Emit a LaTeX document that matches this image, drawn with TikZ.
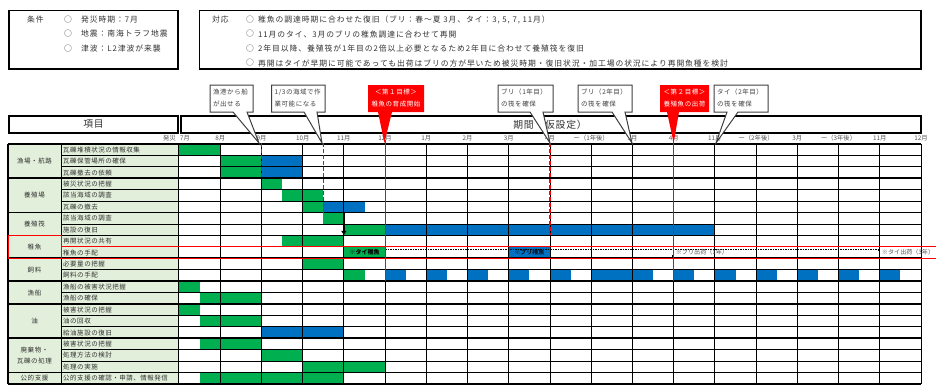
\documentclass[tikz,border=0pt]{standalone}
\usepackage{fontspec}
\setmainfont{Noto Sans CJK JP}
\newfontfamily\jpa[LetterSpace=8]{Noto Sans CJK JP}
\newfontfamily\jpb[LetterSpace=12]{Noto Sans CJK JP}
\usetikzlibrary{arrows.meta}
\definecolor{gr}{HTML}{00B050}
\definecolor{bl}{HTML}{0070C0}
\definecolor{lg}{HTML}{E2EFDA}
\definecolor{tx}{HTML}{333333}
\definecolor{mg}{HTML}{555555}
\definecolor{cg}{HTML}{404040}
\definecolor{rd}{HTML}{FF0000}
\newcommand\CX[1]{179+41.222*(#1)}
\newcommand\RY[1]{144+11.4286*(#1)}
\newcommand\onethird{1/3}
\begin{document}
\begin{tikzpicture}[x=1pt,y=-1pt,
 itm/.style={font=\jpa\fontsize{6.5}{7}\selectfont, text=tx, inner sep=0pt, anchor=west},
 cat/.style={font=\jpa\fontsize{6.5}{10.5}\selectfont, text=tx, inner sep=0pt, align=center},
 mon/.style={font=\fontsize{6.3}{7}\selectfont, text=mg, inner sep=0pt},
 toptxt/.style={font=\jpb\fontsize{7.8}{9}\selectfont, text=tx, inner sep=0pt, anchor=west},
 cal/.style={font=\jpa\fontsize{6.5}{7}\selectfont, inner sep=0pt},
 hdr/.style={font=\jpa\fontsize{9.8}{10}\selectfont, text=tx, inner sep=0pt},
 gl/.style={line width=1pt, draw=black},
 glt/.style={line width=1.6pt, draw=black},
 note/.style={font=\fontsize{6.1}{7}\selectfont, inner sep=0pt},
 ]
\fill[white] (0,0) rectangle (942,389);
\useasboundingbox (0,0) rectangle (942,389);

% ---- top boxes
\draw[line width=1.2pt] (9,10.5) rectangle (178,69);
\draw[line width=1.2pt] (199.5,10.5) rectangle (921,69);
\node[toptxt] (k0) at (27,19.5) {条件};
\foreach \y/\t [count=\i] in {19.5/発災時期：7月, 34/地震：南海トラフ地震, 48.5/津波：L2津波が来襲}{
  \node[toptxt] (kc\i) at (64,\y) {○};
  \node[toptxt] (kt\i) at (81,\y) {\t};
}
\node[toptxt] (t0) at (212,19.5) {対応};
\foreach \y [count=\i] in {19.5,34,48.5,63}{
  \node[toptxt] (tc\i) at (246,\y) {○};
}
\node[toptxt] (tt1) at (258,19.5) {稚魚の調達時期に合わせた復旧（ブリ：春～夏 3月、タイ：3, 5, 7, 11月）};
\node[toptxt] (tt2) at (258,34) {11月のタイ、3月のブリの稚魚調達に合わせて再開};
\node[toptxt] (tt3) at (258,48.5) {2年目以降、養殖筏が1年目の2倍以上必要となるため2年目に合わせて養殖筏を復旧};
\node[toptxt] (tt4) at (258,63) {再開はタイが早期に可能であっても出荷はブリの方が早いため被災時期・復旧状況・加工場の状況により再開魚種を検討};

% ---- header
\draw[line width=2pt] (9,115.5) rectangle (178,133);
\node[hdr] (h1) at (93.5,124.5) {項目};
\draw[line width=2pt] (180.5,115.5) rectangle (921,133);
\node[hdr] (h2) at (550,124.5) {期間（仮設定）};

% ---- month labels
\node[mon, anchor=east] (m00) at (176,138.5) {発災};
\node[mon] (m0) at (185,138.5) {7月};
\foreach \i/\t in {1/8月,2/9月,3/10月,4/11月,5/12月,6/1月,7/2月,8/3月,9/4月,10/ー（1年後）,11/3月,12/4月,13/11月,14/ー（2年後）,15/3月,16/ー（3年後）,17/11月,18/12月}{
  \node[mon] (m\i) at ({\CX{\i}},138.5) {\t};
}

% ---- left columns fill
\fill[lg] (8,{\RY{0}}) rectangle (178.5,{\RY{21}});

% ---- bars
\foreach \c/\a/\b/\r in {gr/0/1/0, gr/1/2/1, bl/2/3/1, gr/1/2/2, bl/2/3/2, gr/2/2.5/3, gr/2.5/3.5/4,
  gr/3/3.5/5, bl/3.5/4.5/5, gr/3.5/4/6, gr/4/5/7, bl/5/13/7, gr/2.5/4/8, gr/4/5/9, bl/8/9/9, gr/3/4/10,
  gr/4/4.5/11, bl/5/5.5/11, bl/6/6.5/11, bl/7/7.5/11, bl/8/8.5/11, bl/9/9.5/11, bl/10/11.5/11,
  bl/12/12.5/11, bl/13/13.5/11, bl/14/14.5/11, bl/15/15.5/11, bl/16/16.5/11, bl/17/17.5/11,
  gr/0/0.5/12, gr/0.5/2/13, gr/0/0.5/14, gr/0.5/2/15, bl/2/4/16, gr/0.5/2/17, gr/2/3/18, gr/3/5/19, gr/0.5/4/20}{
  \fill[\c] ({\CX{\a}},{\RY{\r}}) rectangle ({\CX{\b}},{\RY{\r+1}});
}

% ---- grid
\foreach \r in {0,...,21}{
  \draw[gl] (61,{\RY{\r}}) -- (921,{\RY{\r}});
}
\foreach \r in {0,3,6,8,10,12,14,17,20,21}{
  \draw[glt] (8,{\RY{\r}}) -- (921,{\RY{\r}});
}
\draw[glt] (8,{\RY{0}}) -- (8,{\RY{21}});
\draw[gl] (61,{\RY{0}}) -- (61,{\RY{21}});
\draw[glt] (178.6,{\RY{0}}) -- (178.6,{\RY{21}});
\foreach \i in {1,...,18}{
  \draw[gl] ({\CX{\i}},{\RY{0}}) -- ({\CX{\i}},{\RY{21}});
}

% ---- texts of left columns
\foreach \t [count=\i from 0] in {瓦礫堆積状況の情報収集,瓦礫保管場所の確保,瓦礫撤去の依頼,被災状況の把握,該当海域の調査,瓦礫の撤去,該当海域の調査,施設の復旧,再開状況の共有,稚魚の手配,必要量の把握,飼料の手配,漁船の被害状況把握,漁船の確保,被害状況の把握,油の回収,給油施設の復旧,被害状況の把握,処理方法の検討,処理の実施,公的支援の確認・申請、情報発信}{
  \node[itm] (it\i) at (63,{\RY{\i+0.5}}) {\t};
}
\foreach \a/\b/\t [count=\i] in {0/3/漁場・航路, 3/6/養殖場, 6/8/養殖筏, 8/10/稚魚, 10/12/飼料, 12/14/漁船, 14/17/油, 17/20/{廃棄物・\\瓦礫の処理}, 20/21/公的支援}{
  \node[cat] (ct\i) at (34.5,{\RY{(\a+\b)/2}}) {\t};
}

% ---- red highlight of 稚魚の手配
\draw[rd, line width=1pt] (8,{\RY{8}}) rectangle (61,{\RY{10}});
\draw[rd, line width=1pt] (61,{\RY{9}}) -- (936,{\RY{9}});
\draw[rd, line width=1pt] (61,{\RY{10}}) -- (936,{\RY{10}});

% ---- fry / shipping bars
\node[note, text=black, font=\bfseries\fontsize{6}{7}\selectfont] (n1) at ({\CX{4.5}},{\RY{9.5}}) {※タイ稚魚};
\node[note, text=black!80!bl, font=\bfseries\fontsize{6}{7}\selectfont] (n2) at ({\CX{8.5}},{\RY{9.5}}) {※ブリ稚魚};
\coordinate (ta) at ({\CX{5}},249);
\coordinate (tb) at ({\CX{17}},249);
\coordinate (ba) at ({\CX{9}},257);
\coordinate (bb) at ({\CX{12}},257);
\draw[line width=0.6pt, dash pattern=on 1.5pt off 1pt] (ta) -- (tb);
\draw[line width=0.6pt, dash pattern=on 1.5pt off 1pt] (ba) -- (bb);
\fill (tb) rectangle ++(-1.6,1.8);
\fill (bb) rectangle ++(-1.6,-1.8);
\node[note, text=mg, anchor=west] (n3) at ({\CX{12}+2},{\RY{9.5}}) {※ブリ出荷（1年）};
\node[note, text=mg, anchor=west] (n4) at ({\CX{17}+2},{\RY{9.5}}) {※タイ出荷（3年）};

% ---- arrow
\draw[line width=1.3pt, -{Triangle[length=4pt,width=5pt]}] ({\CX{4}},{\RY{6}}) -- ({\CX{4}},{\RY{8}-0.5});

% ---- red marker lines
\draw[rd, line width=1.2pt, dash pattern=on 3.5pt off 2.5pt] ({\CX{2}},143) -- ({\CX{2}},{\RY{3}});
\draw[rd, line width=1.2pt, dash pattern=on 3.5pt off 2.5pt] ({\CX{3.5}},143) -- ({\CX{3.5}},{\RY{6}});
\draw[rd, line width=1.2pt, dash pattern=on 3.5pt off 2.5pt] ({\CX{9}},143) -- ({\CX{9}},{\RY{8}});
\draw[rd, line width=1.2pt] ({\CX{5}},140) -- ({\CX{5}},{\RY{12}});
\draw[rd, line width=1.2pt] ({\CX{12}},140) -- ({\CX{12}},{\RY{12}});

% ---- callouts (gray)
\foreach \xa/\xb/\wa/\wb/\tp/\la/\lb [count=\i] in {
  210/253/233/247/259/漁港から船/が出せる,
  271.5/325/304/317/322/\onethird の海域で作/業可能になる,
  498/553/530/543/550/ブリ（1年目）/の筏を確保,
  578/632/612/625/632/ブリ（2年目）/の筏を確保,
  714/768/727/738/716/タイ（2年目）/の筏を確保}{
  \filldraw[fill=white, draw=cg, line width=1pt, line join=miter]
    (\xa,85) -- (\xb,85) -- (\xb,112) -- (\wb,112) -- (\tp,143) -- (\wa,112) -- (\xa,112) -- cycle;
  \node[cal, text=cg, anchor=west] (ca\i) at (\xa+3,92.5) {\la};
  \node[cal, text=cg, anchor=west] (cb\i) at (\xa+3,104) {\lb};
}
% ---- callouts (red)
\foreach \xa/\xb/\wa/\wb/\tp/\la/\lb [count=\i] in {
  368/424/378/392/384.4/＜第１目標＞/稚魚の育成開始,
  660/709/667/679/673.7/＜第２目標＞/養殖魚の出荷}{
  \fill[rd] (\xa,85) -- (\xb,85) -- (\xb,112) -- (\wb,112) -- (\tp,143) -- (\wa,112) -- (\xa,112) -- cycle;
  \node[cal, text=white] (ra\i) at ({(\xa+\xb)/2},92.5) {\la};
  \node[cal, text=white] (rb\i) at ({(\xa+\xb)/2},104) {\lb};
}
\end{tikzpicture}
\end{document}
